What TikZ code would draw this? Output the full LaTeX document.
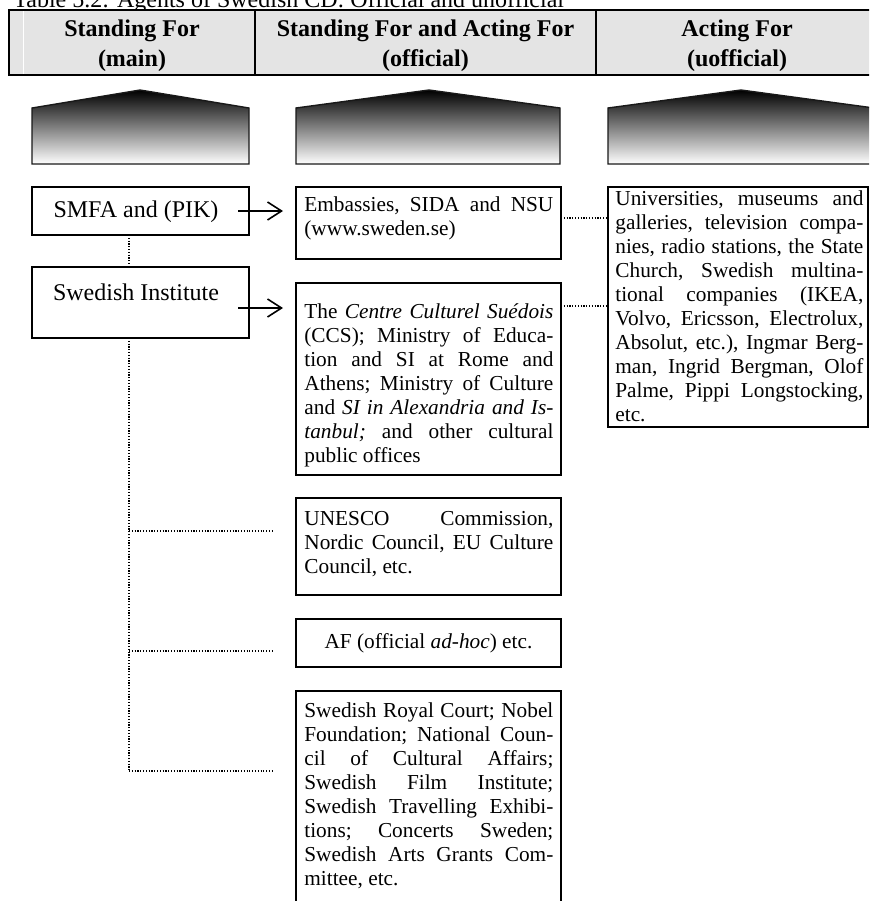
\documentclass[tikz,border=0pt]{standalone}
\usepackage{fontspec}
\setmainfont{Liberation Serif}
\usetikzlibrary{arrows.meta,fit}
\newcommand\jlin[1]{\hbox to\hsize{\frenchspacing\spaceskip=.25em plus 1fil minus .05em\relax#1}}
\newcommand\lastlin[1]{\hbox{\frenchspacing#1}}
\definecolor{hdrgray}{gray}{0.895}
\begin{document}
\begin{tikzpicture}[x=0.5pt,y=-0.5pt,
  frame/.style={draw=black,line width=0.9pt,inner sep=0pt,outer sep=0pt},
  hdrtext/.style={font=\fontsize{12}{15}\selectfont\bfseries,inner sep=0pt,anchor=base},
  bigtext/.style={font=\fontsize{12}{14}\selectfont,inner sep=0pt,anchor=base},
  body/.style={font=\fontsize{10.65}{12}\selectfont,inner sep=0pt,anchor=base west},
  house/.style={top color=black,bottom color=white,draw=black!90,line width=0.7pt},
  arr/.style={line width=0.8pt,-{Straight Barb[length=7pt,width=9pt,line width=0.8pt]}},
  dotline/.style={line width=0.55pt,dash pattern=on 0.55pt off 0.85pt}]
\useasboundingbox (0,0) rectangle (869,901);
\clip (0,0) rectangle (869,901);
% title
\node[bigtext,anchor=base west] (title) at (13,7) {Table 5.2: Agents of Swedish CD: Official and unofficial};
% header row
\node[frame,fill=hdrgray,fit={(9,10)(878,75)}] (hdr) {};
\draw[white,line width=0.5pt] (23,11) -- (23,74);
\draw[line width=0.9pt] (255,10) -- (255,75);
\draw[line width=0.9pt] (596,10) -- (596,75);
\node[hdrtext] (h1a) at (132,36) {Standing For};
\node[hdrtext] (h1b) at (132,66) {(main)};
\node[hdrtext] (h2a) at (425.5,36) {Standing For and Acting For};
\node[hdrtext] (h2b) at (425.5,66) {(official)};
\node[hdrtext] (h3a) at (737,36) {Acting For};
\node[hdrtext] (h3b) at (737,66) {(uofficial)};
% house shapes
\shade[house] (32,164) -- (32,108) -- (140,90) -- (249,108) -- (249,164) -- cycle;
\shade[house] (296,164) -- (296,108) -- (429,90) -- (560,108) -- (560,164) -- cycle;
\shade[house] (608,164) -- (608,108) -- (741,90) -- (874,108) -- (874,164) -- cycle;
% left boxes
\node[frame,fit={(32,187)(249,235)}] (smfa) {};
\node[bigtext] (smfat) at (136,217) {SMFA and (PIK)};
\node[frame,fit={(32,267)(249,338)}] (si) {};
\node[bigtext] (sit) at (136,300) {Swedish Institute};
% middle boxes
\node[frame,fit={(296,187)(561,259)}] (emb) {};
\node[body] (embt) at (304,211) {\vtop{\hsize=124.5pt
  \jlin{Embassies, SIDA and NSU}
  \lastlin{(www.sweden.se)}}};
\node[frame,fit={(296,283)(561,475)}] (ccs) {};
\node[body] (ccst) at (304,318) {\vtop{\hsize=124.5pt
  \jlin{The \textit{Centre Culturel Suédois}}
  \jlin{(CCS); Ministry of Educa-}
  \jlin{tion and SI at Rome and}
  \jlin{Athens; Ministry of Culture}
  \jlin{and \textit{SI in Alexandria and Is-}}
  \jlin{\textit{tanbul;} and other cultural}
  \lastlin{public offices}}};
\node[frame,fit={(296,498)(561,595)}] (unesco) {};
\node[body] (unescot) at (304,525) {\vtop{\hsize=124.5pt
  \jlin{UNESCO Commission,}
  \jlin{Nordic Council, EU Culture}
  \lastlin{Council, etc.}}};
\node[frame,fit={(296,619)(561,667)}] (af) {};
\node[body,anchor=base] (aft) at (428.5,648) {AF (official \textit{ad-hoc}) etc.};
\node[frame,fit={(296,691)(561,915)}] (royal) {};
\node[body] (royalt) at (304,717) {\vtop{\hsize=124.5pt
  \jlin{Swedish Royal Court; Nobel}
  \jlin{Foundation; National Coun-}
  \jlin{cil of Cultural Affairs;}
  \jlin{Swedish Film Institute;}
  \jlin{Swedish Travelling Exhibi-}
  \jlin{tions; Concerts Sweden;}
  \jlin{Swedish Arts Grants Com-}
  \lastlin{mittee, etc.}}};
% right box
\node[frame,fit={(608,187)(868,427)}] (univ) {};
\node[body] (univt) at (615,205) {\vtop{\hsize=124pt
  \jlin{Universities, museums and}
  \jlin{galleries, television compa-}
  \jlin{nies, radio stations, the State}
  \jlin{Church, Swedish multina-}
  \jlin{tional companies (IKEA,}
  \jlin{Volvo, Ericsson, Electrolux,}
  \jlin{Absolut, etc.), Ingmar Berg-}
  \jlin{man, Ingrid Bergman, Olof}
  \jlin{Palme, Pippi Longstocking,}
  \lastlin{etc.}}};
% arrows
\draw[arr] ([xshift=-5.5pt]smfa.east) coordinate (a1s) -- ([xshift=-6.5pt]a1s -| emb.west);
\draw[arr] ([shift={(-11,5.5)}]si.east) coordinate (a2s) -- ([xshift=-6.5pt]a2s -| ccs.west);
% dotted connectors
\draw[dotline] ([yshift=2.5pt]emb.east) coordinate (d0) -- (d0 -| univ.west);
\draw[dotline] ([yshift=-11.5pt]ccs.north east) coordinate (d00) -- (d00 -| univ.west);
\coordinate (vx) at (129,0);
\coordinate (e1) at (273,531);
\coordinate (e2) at (273,651);
\coordinate (e3) at (273,771);
\draw[dotline] (vx |- smfa.south) -- (vx |- si.north);
\draw[dotline] (vx |- si.south) -- (vx |- e3);
\draw[dotline] (vx |- e1) -- (e1);
\draw[dotline] (vx |- e2) -- (e2);
\draw[dotline] (vx |- e3) -- (e3);
\end{tikzpicture}
\end{document}
